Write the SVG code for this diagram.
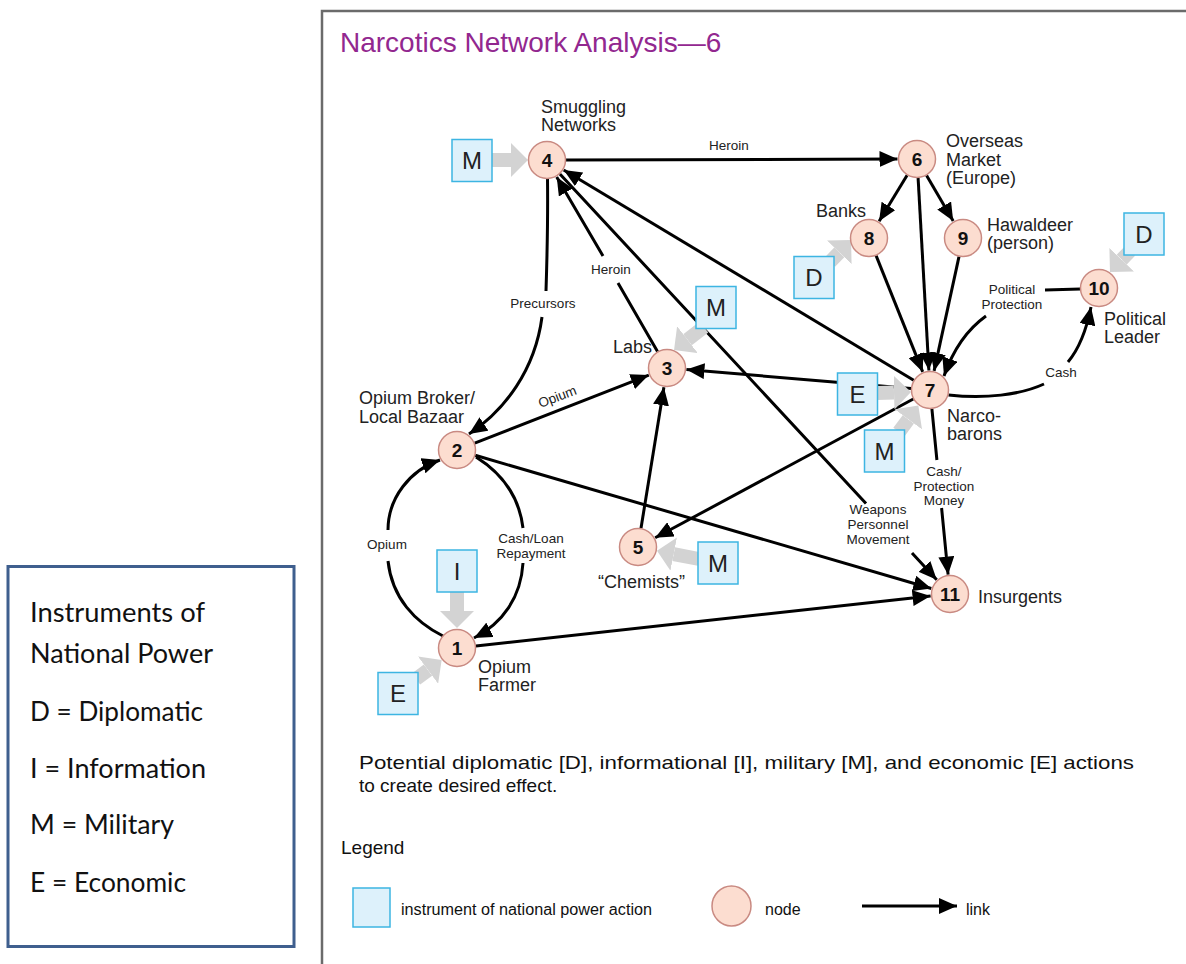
<svg xmlns="http://www.w3.org/2000/svg" width="1186" height="964" viewBox="0 0 1186 964">
<style>
.ln{fill:none;stroke:#000;stroke-width:3;marker-end:url(#ah)}
.ga{stroke:#D3D3D3;stroke-width:14;marker-end:url(#gh)}
.box{fill:#DDF1FB;stroke:#3DB5E2;stroke-width:1.5}
.bt{font-family:"Liberation Sans",Arial,sans-serif;font-size:24px;text-anchor:middle;fill:#222}
.nd{fill:#FCDDD0;stroke:#C98A82;stroke-width:1.5}
.nn{font-family:"Liberation Sans",Arial,sans-serif;font-weight:bold;font-size:19px;text-anchor:middle;fill:#111}
.nl{font-family:"Liberation Sans",Arial,sans-serif;font-size:18px;fill:#222}
.el{font-family:"Liberation Sans",Arial,sans-serif;font-size:13.5px;fill:#222;text-anchor:middle}
.lg{font-family:"Liberation Sans",Arial,sans-serif;fill:#111}
.ip{font-family:Lato,"Liberation Sans",sans-serif;font-size:26px;fill:#111}
</style>
<defs>
<marker id="ah" viewBox="0 0 18 16" markerWidth="18" markerHeight="16" refX="18" refY="8" orient="auto" markerUnits="userSpaceOnUse"><path d="M0,0 L18,8 L0,16 z" fill="#000"/></marker>
<marker id="gh" viewBox="0 -17 17 34" markerWidth="17" markerHeight="34" refX="0" refY="0" orient="auto" markerUnits="userSpaceOnUse"><path d="M0,-17 L17,0 L0,17 z" fill="#D3D3D3"/></marker>
</defs>
<rect width="1186" height="964" fill="#fff"/>

<g id="power-box">
<rect x="8" y="566.5" width="286" height="380" fill="#fff" stroke="#3F5F8E" stroke-width="3"/>
<text class="ip" x="30" y="622" textLength="175" lengthAdjust="spacingAndGlyphs">Instruments of</text>
<text class="ip" x="30" y="663" textLength="183" lengthAdjust="spacingAndGlyphs">National Power</text>
<text class="ip" x="30" y="721" textLength="173" lengthAdjust="spacingAndGlyphs">D = Diplomatic</text>
<text class="ip" x="30" y="778" textLength="176" lengthAdjust="spacingAndGlyphs">I = Information</text>
<text class="ip" x="30" y="834" textLength="144" lengthAdjust="spacingAndGlyphs">M = Military</text>
<text class="ip" x="30" y="892" textLength="156" lengthAdjust="spacingAndGlyphs">E = Economic</text>
</g>

<g id="panel">
<path d="M322,964 V11 H1186" fill="none" stroke="#6b6b6b" stroke-width="2.5"/>
<text x="340" y="52" font-family="Liberation Sans, Arial, sans-serif" font-size="28" fill="#92278F">Narcotics Network Analysis—6</text>
</g>

<g id="connectors">
<path class="ln" d="M566,160 L897.5,159"/>
<path class="ln" d="M657.5,351.5 L618,283 M603,256 L556.7,176.9"/>
<path class="ln" d="M913.7,380.2 L563.7,170"/>
<path class="ln" d="M559.9,173.9 L866,503.5 M912,553 L936.7,579.7"/>
<path class="ln" d="M474.7,443.1 L648.8,375.1"/>
<path class="ln" d="M641,528.2 L663.9,387.3"/>
<path class="ln" d="M911.1,388.4 L686.4,369.6"/>
<path class="ln" d="M913.3,399 L655.2,537.8"/>
<path class="ln" d="M907.1,175.2 L879.1,221.3"/>
<path class="ln" d="M926.6,175.4 L953.2,221.1"/>
<path class="ln" d="M918.1,178 L928.9,370.5"/>
<path class="ln" d="M876.1,255.6 L922.7,371.9"/>
<path class="ln" d="M959,256.6 L934.1,370.9"/>
<path class="ln" d="M1080.5,289 L1045,290 M986,316 Q958,336 944,376"/>
<path class="ln" d="M948.5,395 C985,399 1020,395 1044,384 M1068,362 C1078,350 1086,332 1091,307"/>
<path class="ln" d="M931.9,408.9 L936.9,460 M941.6,508 L948.1,574.6"/>
<path class="ln" d="M475.2,455.3 L931.3,588.5"/>
<path class="ln" d="M475.9,645.9 L930.6,596.1"/>
<path class="ln" d="M476,457 C500,472 519,495 523,528 M523,563 C521,597 503,623 474,638"/>
<path class="ln" d="M443,636 C415,622 392,598 388,561 M388,530 C388,498 410,470 440,460"/>
<path class="ln" d="M547.5,178.5 C548,220 547,260 546,291 M542,317 C535,370 505,410 469,434"/>
<g id="link-labels">
<text class="el" x="729" y="150">Heroin</text>
<text class="el" x="611" y="274">Heroin</text>
<text class="el" x="543" y="308">Precursors</text>
<text class="el" transform="translate(559,401) rotate(-21)">Opium</text>
<text class="el" x="878" y="514">Weapons</text>
<text class="el" x="878" y="529">Personnel</text>
<text class="el" x="878" y="543.5">Movement</text>
<text class="el" x="944" y="475.5">Cash/</text>
<text class="el" x="944" y="490.5">Protection</text>
<text class="el" x="944" y="505">Money</text>
<text class="el" x="1012" y="294">Political</text>
<text class="el" x="1012" y="309">Protection</text>
<text class="el" x="1061" y="376.5">Cash</text>
<text class="el" x="531" y="542.5">Cash/Loan</text>
<text class="el" x="531" y="557.5">Repayment</text>
<text class="el" x="387" y="548.5">Opium</text>
</g>
<g id="action-arrows">
<line class="ga" x1="492" y1="160" x2="511" y2="160"/>
<line class="ga" x1="704" y1="327" x2="687.5" y2="339.7"/>
<line class="ga" x1="830" y1="262" x2="839.3" y2="252.3"/>
<line class="ga" x1="1130" y1="251" x2="1121.7" y2="259.7"/>
<line class="ga" x1="877" y1="393" x2="894" y2="392.5"/>
<line class="ga" x1="899" y1="432" x2="908.3" y2="419.3"/>
<line class="ga" x1="699" y1="559" x2="673.7" y2="554.1"/>
<line class="ga" x1="457" y1="592" x2="457" y2="611"/>
<line class="ga" x1="416" y1="679" x2="428" y2="670.1"/>
</g>
</g>

<g id="a-m4"><rect class="box" x="452" y="139.5" width="40" height="42"/><text class="bt" x="472" y="169">M</text></g>
<g id="a-m3"><rect class="box" x="696" y="286.5" width="40" height="42"/><text class="bt" x="716" y="316">M</text></g>
<g id="a-d8"><rect class="box" x="794" y="256.5" width="40" height="42"/><text class="bt" x="814" y="286">D</text></g>
<g id="a-d10"><rect class="box" x="1124" y="213" width="40" height="42"/><text class="bt" x="1144" y="242.5">D</text></g>
<g id="a-e7"><rect class="box" x="837.5" y="373" width="40" height="42"/><text class="bt" x="857.5" y="402.5">E</text></g>
<g id="a-m7"><rect class="box" x="864.5" y="430" width="40" height="42"/><text class="bt" x="884.5" y="459.5">M</text></g>
<g id="a-m5"><rect class="box" x="698" y="542" width="40" height="42"/><text class="bt" x="718" y="571.5">M</text></g>
<g id="a-i1"><rect class="box" x="437" y="550" width="40" height="42"/><text class="bt" x="457" y="579.5">I</text></g>
<g id="a-e1"><rect class="box" x="378" y="672.5" width="40" height="42"/><text class="bt" x="398" y="702">E</text></g>

<g id="n1"><circle class="nd" cx="457" cy="648" r="18.5"/><text class="nn" x="457" y="655">1</text><text class="nl" x="478" y="673">Opium</text><text class="nl" x="478" y="691">Farmer</text></g>
<g id="n2"><circle class="nd" cx="457" cy="450" r="18.5"/><text class="nn" x="457" y="457">2</text><text class="nl" x="359" y="404">Opium Broker/</text><text class="nl" x="359" y="423">Local Bazaar</text></g>
<g id="n3"><circle class="nd" cx="667" cy="368" r="18.5"/><text class="nn" x="667" y="375">3</text><text class="nl" x="613" y="353">Labs</text></g>
<g id="n4"><circle class="nd" cx="547" cy="160" r="18.5"/><text class="nn" x="547" y="167">4</text><text class="nl" x="541" y="113">Smuggling</text><text class="nl" x="541" y="131">Networks</text></g>
<g id="n5"><circle class="nd" cx="638" cy="547" r="18.5"/><text class="nn" x="638" y="554">5</text><text class="nl" x="598" y="588">“Chemists”</text></g>
<g id="n6"><circle class="nd" cx="917" cy="159" r="18.5"/><text class="nn" x="917" y="166">6</text><text class="nl" x="946" y="147">Overseas</text><text class="nl" x="946" y="166">Market</text><text class="nl" x="946" y="184">(Europe)</text></g>
<g id="n7"><circle class="nd" cx="930" cy="390" r="18.5"/><text class="nn" x="930" y="397">7</text><text class="nl" x="947" y="422">Narco-</text><text class="nl" x="947" y="440">barons</text></g>
<g id="n8"><circle class="nd" cx="869" cy="238" r="18.5"/><text class="nn" x="869" y="245">8</text><text class="nl" x="866" y="217" text-anchor="end">Banks</text></g>
<g id="n9"><circle class="nd" cx="963" cy="238" r="18.5"/><text class="nn" x="963" y="245">9</text><text class="nl" x="987" y="231">Hawaldeer</text><text class="nl" x="987" y="249">(person)</text></g>
<g id="n10"><circle class="nd" cx="1099" cy="288" r="18.5"/><text class="nn" x="1099" y="295">10</text><text class="nl" x="1104" y="325">Political</text><text class="nl" x="1104" y="343">Leader</text></g>
<g id="n11"><circle class="nd" cx="950" cy="594" r="18.5"/><text class="nn" x="950" y="601">11</text><text class="nl" x="978" y="603">Insurgents</text></g>

<g id="caption">
<text class="lg" x="359" y="769" font-size="19" textLength="775" lengthAdjust="spacingAndGlyphs">Potential diplomatic [D], informational [I], military [M], and economic [E] actions</text>
<text class="lg" x="359" y="792" font-size="19">to create desired effect.</text>
</g>

<g id="legend">
<text class="lg" x="341" y="854" font-size="19">Legend</text>
<rect class="box" x="353" y="888" width="37" height="39"/>
<text class="lg" x="401" y="915" font-size="16" textLength="251" lengthAdjust="spacingAndGlyphs">instrument of national power action</text>
<ellipse class="nd" cx="731.5" cy="906" rx="19.5" ry="20"/>
<text class="lg" x="765" y="915" font-size="16">node</text>
<path class="ln" d="M862,906 L957,906"/>
<text class="lg" x="966" y="915" font-size="16">link</text>
</g>
</svg>
